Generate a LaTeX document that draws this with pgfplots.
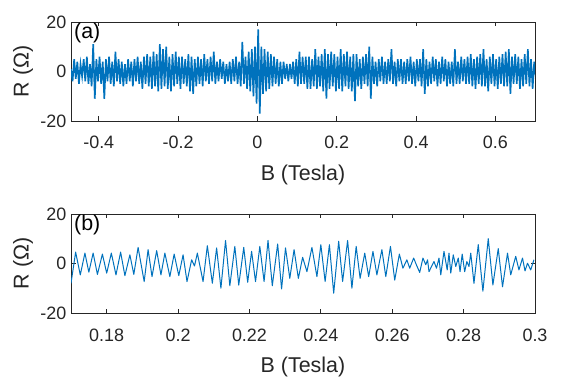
\documentclass[border=0pt]{standalone}
\usepackage{fontspec}
\setmainfont{Liberation Sans}
\usepackage{pgfplots}
\pgfplotsset{compat=1.18}
\definecolor{mblue}{RGB}{0,114,189}
\definecolor{axgray}{RGB}{38,38,38}

\pgfplotsset{
  panel/.style={
    width=464bp, height=99bp, scale only axis,
    ymin=-20, ymax=20, ytick={-20,0,20},
    axis line style={axgray, line width=0.7bp},
    tick style={axgray, line width=0.7bp},
    major tick length=4.5bp,
    tick align=inside,
    xtick pos=both, ytick pos=both,
    /pgf/number format/assume math mode=true,
    tick label style={font=\fontsize{18}{20}\selectfont, text=axgray},
    xticklabel style={anchor=base, yshift=-28bp, inner sep=0pt},
    yticklabel style={anchor=east, xshift=-4.5bp, inner sep=0pt},
    label style={font=\fontsize{21.5}{24}\selectfont, text=axgray},
    xlabel style={at={(axis description cs:0.5,-0.6)}, anchor=base},
    ylabel style={at={(axis description cs:-0.1034,0.5)}, anchor=center},
    xlabel={B (Tesla)}, ylabel={R (Ω)},
  }
}

\begin{document}
\begin{tikzpicture}
\path[use as bounding box] (0,0) rectangle (579bp,388bp);

% panel (a)
\begin{axis}[panel, at={(71bp,267bp)}, anchor=south west,
  xmin=-0.47, xmax=0.70,
  xtick={-0.4,-0.2,0,0.2,0.4,0.6},
  xticklabels={-0.4,-0.2,0,0.2,0.4,0.6}]
\addplot[mblue, line width=1.6bp] coordinates {
(-0.470,1)(-0.466,-4)(-0.462,5)(-0.458,-3)(-0.454,4)(-0.450,-5)(-0.446,3)(-0.442,-2)(-0.438,5)(-0.434,-4)
(-0.430,6)(-0.426,-5)(-0.422,3)(-0.418,-6)(-0.414,11)(-0.410,-11)(-0.406,5)(-0.402,-4)(-0.398,6)(-0.394,-5)
(-0.390,4)(-0.386,-11)(-0.382,5)(-0.378,-4)(-0.374,6)(-0.370,-5)(-0.366,4)(-0.362,-6)(-0.358,8)(-0.354,-4)
(-0.350,5)(-0.346,-5)(-0.342,4)(-0.338,-6)(-0.334,3)(-0.330,-5)(-0.326,5)(-0.322,-4)(-0.318,4)(-0.314,-6)
(-0.310,5)(-0.306,-4)(-0.302,6)(-0.298,-5)(-0.294,4)(-0.290,-7)(-0.286,6)(-0.282,-5)(-0.278,7)(-0.274,-6)
(-0.270,6)(-0.266,-7)(-0.262,8)(-0.258,-6)(-0.254,7)(-0.250,-8)(-0.246,11)(-0.242,-7)(-0.238,9)(-0.234,-6)
(-0.230,10)(-0.226,-7)(-0.222,6)(-0.218,-8)(-0.214,7)(-0.210,-6)(-0.206,8)(-0.202,-5)(-0.198,6)(-0.194,-7)
(-0.190,6)(-0.186,-5)(-0.182,5)(-0.178,-6)(-0.174,7)(-0.170,-8)(-0.166,6)(-0.162,-9)(-0.158,5)(-0.154,-6)
(-0.150,6)(-0.146,-5)(-0.142,5)(-0.138,-6)(-0.134,7)(-0.130,-4)(-0.126,5)(-0.122,-5)(-0.118,6)(-0.114,-4)
(-0.110,8)(-0.106,-5)(-0.102,4)(-0.098,-4)(-0.094,5)(-0.090,-3)(-0.086,4)(-0.082,-5)(-0.078,3)(-0.074,-4)
(-0.070,4)(-0.066,-5)(-0.062,5)(-0.058,-4)(-0.054,6)(-0.050,-5)(-0.046,4)(-0.042,-6)(-0.038,12)(-0.034,-5)
(-0.030,6)(-0.026,-7)(-0.022,8)(-0.018,-8)(-0.014,9)(-0.010,-10)(-0.006,10)(-0.002,-13)(0.002,17)(0.006,-17)
(0.010,10)(0.014,-9)(0.018,9)(0.022,-8)(0.026,8)(0.030,-7)(0.034,7)(0.038,-6)(0.042,6)(0.046,-5)
(0.050,5)(0.054,-6)(0.058,4)(0.062,-5)(0.066,4)(0.070,-3)(0.074,3)(0.078,-4)(0.082,3)(0.086,-3)
(0.090,4)(0.094,-5)(0.098,5)(0.102,-6)(0.106,8)(0.110,-5)(0.114,6)(0.118,-5)(0.122,6)(0.126,-7)
(0.130,6)(0.134,-7)(0.138,5)(0.142,-6)(0.146,9)(0.150,-7)(0.154,6)(0.158,-6)(0.162,7)(0.166,-8)
(0.170,9)(0.174,-11)(0.178,7)(0.182,-7)(0.186,8)(0.190,-6)(0.194,7)(0.198,-8)(0.202,6)(0.206,-7)
(0.210,9)(0.214,-8)(0.218,7)(0.222,-6)(0.226,8)(0.230,-7)(0.234,6)(0.238,-8)(0.242,7)(0.246,-12)
(0.250,7)(0.254,-6)(0.258,5)(0.262,-7)(0.266,6)(0.270,-5)(0.274,7)(0.278,-6)(0.282,10)(0.286,-11)
(0.290,6)(0.294,-5)(0.298,4)(0.302,-6)(0.306,5)(0.310,-4)(0.314,6)(0.318,-5)(0.322,4)(0.326,-5)
(0.330,5)(0.334,-4)(0.338,9)(0.342,-5)(0.346,4)(0.350,-6)(0.354,5)(0.358,-4)(0.362,5)(0.366,-5)
(0.370,4)(0.374,-5)(0.378,5)(0.382,-4)(0.386,6)(0.390,-5)(0.394,4)(0.398,-6)(0.402,5)(0.406,-4)
(0.410,5)(0.414,-6)(0.418,9)(0.422,-9)(0.426,5)(0.430,-6)(0.434,4)(0.438,-5)(0.442,6)(0.446,-4)
(0.450,5)(0.454,-6)(0.458,4)(0.462,-5)(0.466,6)(0.470,-4)(0.474,5)(0.478,-6)(0.482,4)(0.486,-5)
(0.490,4)(0.494,-6)(0.498,9)(0.502,-5)(0.506,4)(0.510,-5)(0.514,6)(0.518,-4)(0.522,5)(0.526,-5)
(0.530,6)(0.534,-5)(0.538,7)(0.542,-6)(0.546,5)(0.550,-7)(0.554,6)(0.558,-5)(0.562,7)(0.566,-6)
(0.570,9)(0.574,-6)(0.578,5)(0.582,-8)(0.586,6)(0.590,-5)(0.594,7)(0.598,-6)(0.602,5)(0.606,-7)
(0.610,6)(0.614,-5)(0.618,7)(0.622,-6)(0.626,8)(0.630,-6)(0.634,9)(0.638,-9)(0.642,6)(0.646,-5)
(0.650,7)(0.654,-5)(0.658,6)(0.662,-7)(0.666,5)(0.670,-6)(0.674,7)(0.678,-5)(0.682,9)(0.686,-6)
(0.690,5)(0.694,-7)(0.698,4)(0.702,-2)
};
\node[anchor=north west, inner sep=0pt, font=\fontsize{21.5}{24}\selectfont]
  at (rel axis cs:0,1) [xshift=3bp, yshift=-1bp] {(a)};
\end{axis}

% panel (b)
\begin{axis}[panel, at={(71bp,75bp)}, anchor=south west,
  xmin=0.17, xmax=0.30,
  xtick={0.18,0.20,0.22,0.24,0.26,0.28,0.30},
  xticklabels={0.18,0.2,0.22,0.24,0.26,0.28,0.3}]
\addplot[mblue, line width=1.0bp, line join=round] coordinates {
(0.1700,-8.0)(0.1713,4.6)(0.1726,-4.6)(0.1739,4.2)(0.1750,-3.5)(0.1762,4.2)(0.1774,-4.4)
(0.1788,3.8)(0.1800,-3.9)(0.1813,4.2)(0.1826,-4.6)(0.1839,4.6)(0.1851,-4.9)(0.1865,3.5)
(0.1876,-4.4)(0.1888,6.5)(0.1905,-7.3)(0.1916,5.6)(0.1927,-5.3)(0.1940,5.2)(0.1952,-4.6)
(0.1963,4.2)(0.1977,-5.3)(0.1989,3.8)(0.2002,-4.9)(0.2014,3.5)(0.2025,-7.3)
(0.2038,1.5)(0.2046,-1.0)(0.2054,4.2)(0.2070,-7.3)(0.2082,7.2)(0.2096,-8.0)(0.2108,6.3)
(0.2120,-10.0)(0.2133,9.3)(0.2145,-9.0)(0.2159,6.9)(0.2170,-8.7)(0.2184,6.5)(0.2195,-7.6)
(0.2206,4.9)(0.2217,-7.3)(0.2229,6.9)(0.2241,-7.3)(0.2252,9.3)(0.2264,-9.0)(0.2279,7.9)
(0.2290,-10.3)(0.2301,6.3)(0.2313,-6.0)(0.2325,5.6)(0.2337,-6.0)
(0.2349,2.5)(0.2361,-3.3)(0.2375,6.5)(0.2389,-5.3)(0.2400,7.6)(0.2412,-7.3)(0.2424,7.6)
(0.2436,-12.0)(0.2450,9.0)(0.2461,-7.3)(0.2475,9.3)(0.2487,-10.0)(0.2499,6.9)(0.2510,-6.0)
(0.2523,4.2)(0.2534,-5.3)(0.2546,4.9)(0.2557,-4.6)(0.2571,5.6)(0.2582,-5.3)(0.2595,6.9)
(0.2607,-6.7)(0.2620,3.8)(0.2630,-1.9)(0.2641,1.5)(0.2649,-1.9)(0.2660,2.2)(0.2669,-1.0)
(0.2677,-3.6)(0.2686,2.2)(0.2694,-0.5)(0.2699,1.5)(0.2703,-3.3)(0.2717,0.8)(0.2724,-1.9)
(0.2731,2.2)(0.2736,-4.6)(0.2745,4.9)(0.2754,-2.6)(0.2759,4.2)(0.2764,-3.9)(0.2771,3.5)
(0.2778,-1.2)(0.2785,2.2)(0.2790,-3.3)(0.2796,3.8)(0.2803,-3.3)(0.2809,0.8)(0.2815,-1.2)
(0.2820,4.2)(0.2829,-8.0)(0.2841,7.6)(0.2854,-11.2)(0.2869,10.0)(0.2882,-8.7)(0.2897,6.0)
(0.2909,-9.4)(0.2923,4.2)(0.2932,-4.6)(0.2946,2.9)(0.2955,-2.6)(0.2965,2.2)(0.2972,-3.0)
(0.2979,0.1)(0.2988,-2.6)(0.2997,1.5)
};
\node[anchor=north west, inner sep=0pt, font=\fontsize{21.5}{24}\selectfont]
  at (rel axis cs:0,1) [xshift=3bp, yshift=-1bp] {(b)};
\end{axis}
\end{tikzpicture}
\end{document}
